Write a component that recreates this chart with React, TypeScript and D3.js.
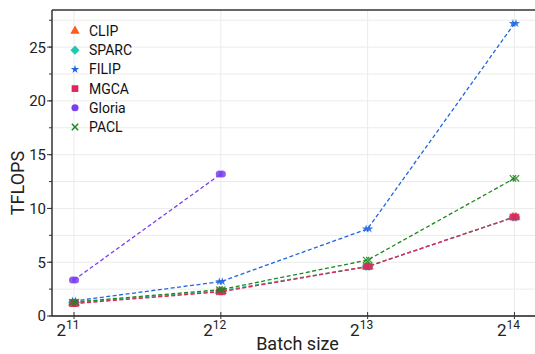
import React, { useEffect, useRef } from 'react';
import * as d3 from 'd3';

// batch sizes as powers of two
const batchExp = [11, 12, 13, 14];
const models = ['CLIP', 'SPARC', 'FILIP', 'MGCA', 'Gloria', 'PACL'];
const clipVals = [1.2, 2.3, 4.6, 9.2];
const sparcVals = [1.25, 2.35, 4.6, 9.2];
const filipVals = [1.4, 3.2, 8.1, 27.2];
const mgcaVals = [1.15, 2.25, 4.6, 9.2];
const gloriaVals = [3.35, 13.2];
const paclVals = [1.3, 2.45, 5.2, 12.8];
const yTicks = [0, 5, 10, 15, 20, 25];

const W = 535, H = 354;

const App = () => {
  const ref = useRef<SVGSVGElement>(null);

  useEffect(() => {
    document.body.style.margin = '0';
    const svg = d3.select(ref.current);
    svg.selectAll('*').remove();

    const margin = { top: 10, right: 0, bottom: 38, left: 52 };
    const x = d3.scaleLinear().domain([10.85, 14.14]).range([margin.left, W - margin.right]);
    const y = d3.scaleLinear().domain([0, 28.45]).range([H - margin.bottom, margin.top]);
    const font = 'Roboto, "Noto Sans", sans-serif';

    const series = [
      { name: models[0], vals: clipVals, color: '#ff5a1f', sym: d3.symbolTriangle, size: 38 },
      { name: models[1], vals: sparcVals, color: '#1fc8b0', sym: d3.symbolSquare, size: 42, rot: 45 },
      { name: models[2], vals: filipVals, color: '#1f66e0', sym: d3.symbolStar, size: 22 },
      { name: models[3], vals: mgcaVals, color: '#e0245e', sym: d3.symbolSquare, size: 45 },
      { name: models[4], vals: gloriaVals, color: '#7b3ff0', sym: d3.symbolCircle, size: 40 },
      { name: models[5], vals: paclVals, color: '#1a8a1a', sym: d3.symbolX, size: 28, line: true },
    ];

    // grid
    const g = svg.append('g');
    const minor = d3.range(0, 28.45, 2.5);
    g.selectAll('.ygrid').data(minor).join('line')
      .attr('x1', margin.left).attr('x2', W).attr('y1', d => y(d)).attr('y2', d => y(d))
      .attr('stroke', '#ebebeb').attr('stroke-width', 1);
    g.selectAll('.xgrid').data(batchExp).join('line')
      .attr('x1', d => x(d)).attr('x2', d => x(d)).attr('y1', margin.top).attr('y2', H - margin.bottom)
      .attr('stroke', '#ebebeb').attr('stroke-width', 1);

    // lines + markers
    series.forEach(s => {
      const pts = s.vals.map((v, i) => [batchExp[i], v] as [number, number]);
      svg.append('path').datum(pts)
        .attr('d', d3.line().x(d => x(d[0])).y(d => y(d[1])))
        .attr('fill', 'none').attr('stroke', s.color).attr('stroke-width', 1.3)
        .attr('stroke-dasharray', '4,2.5');
      [-1.5, 1.5].forEach(off => {
        svg.append('g').selectAll('path').data(pts).join('path')
          .attr('d', d3.symbol(s.sym, s.size))
          .attr('transform', d => `translate(${x(d[0]) + off},${y(d[1])}) rotate(${s.rot || 0})`)
          .attr('fill', s.line ? 'none' : s.color)
          .attr('stroke', s.line ? s.color : 'none').attr('stroke-width', 1.3)
          .attr('opacity', 0.85);
      });
    });

    // axes
    const axisColor = '#333';
    svg.append('line').attr('x1', margin.left).attr('x2', W).attr('y1', margin.top).attr('y2', margin.top)
      .attr('stroke', axisColor).attr('stroke-width', 1.5);
    svg.append('line').attr('x1', margin.left).attr('x2', W).attr('y1', H - margin.bottom).attr('y2', H - margin.bottom)
      .attr('stroke', '#555').attr('stroke-width', 2);
    svg.append('line').attr('x1', margin.left).attr('x2', margin.left).attr('y1', margin.top).attr('y2', H - margin.bottom)
      .attr('stroke', axisColor).attr('stroke-width', 1.5);

    // y ticks
    svg.selectAll('.ymin').data(minor).join('line')
      .attr('x1', margin.left - 3).attr('x2', margin.left).attr('y1', d => y(d)).attr('y2', d => y(d))
      .attr('stroke', axisColor);
    svg.selectAll('.ymaj').data(yTicks).join('line')
      .attr('x1', margin.left - 5).attr('x2', margin.left).attr('y1', d => y(d)).attr('y2', d => y(d))
      .attr('stroke', axisColor);
    svg.selectAll('.ylab').data(yTicks).join('text')
      .attr('x', margin.left - 6).attr('y', d => y(d)).attr('dy', '0.36em')
      .attr('text-anchor', 'end').attr('font-family', font).attr('font-size', 15).attr('fill', '#222')
      .text(d => d);

    // x ticks
    svg.selectAll('.xt').data(batchExp).join('line')
      .attr('x1', d => x(d)).attr('x2', d => x(d)).attr('y1', H - margin.bottom - 4).attr('y2', H - margin.bottom + 3)
      .attr('stroke', axisColor);
    const xl = svg.selectAll('.xlab').data(batchExp).join('text')
      .attr('x', d => x(d) - 6).attr('y', H - margin.bottom + 20)
      .attr('text-anchor', 'middle').attr('font-family', font).attr('font-size', 17).attr('fill', '#222');
    xl.append('tspan').text('2');
    xl.append('tspan').attr('dy', -7).attr('font-size', 12).text(d => d);

    // axis titles
    svg.append('text').attr('x', (margin.left + W) / 2 + 4).attr('y', H - 4)
      .attr('text-anchor', 'middle').attr('font-family', font).attr('font-size', 18).attr('fill', '#222')
      .text('Batch size');
    svg.append('text').attr('transform', 'translate(24,183) rotate(-90)')
      .attr('text-anchor', 'middle').attr('font-family', font).attr('font-size', 18).attr('fill', '#222')
      .text('TFLOPS');

    // legend
    const lg = svg.append('g').attr('transform', 'translate(75,31)');
    series.forEach((s, i) => {
      const row = lg.append('g').attr('transform', `translate(0,${i * 19.2})`);
      row.append('path').attr('d', d3.symbol(s.sym, s.size)).attr('transform', `rotate(${s.rot || 0})`)
        .attr('fill', s.line ? 'none' : s.color)
        .attr('stroke', s.line ? s.color : 'none').attr('stroke-width', 1.5);
      row.append('text').attr('x', 14).attr('dy', '0.36em')
        .attr('font-family', font).attr('font-size', 14).attr('fill', '#111').text(s.name);
    });
  }, []);

  return <svg ref={ref} width={W} height={H} style={{ display: 'block', background: '#fff' }} />;
};

export default App;
